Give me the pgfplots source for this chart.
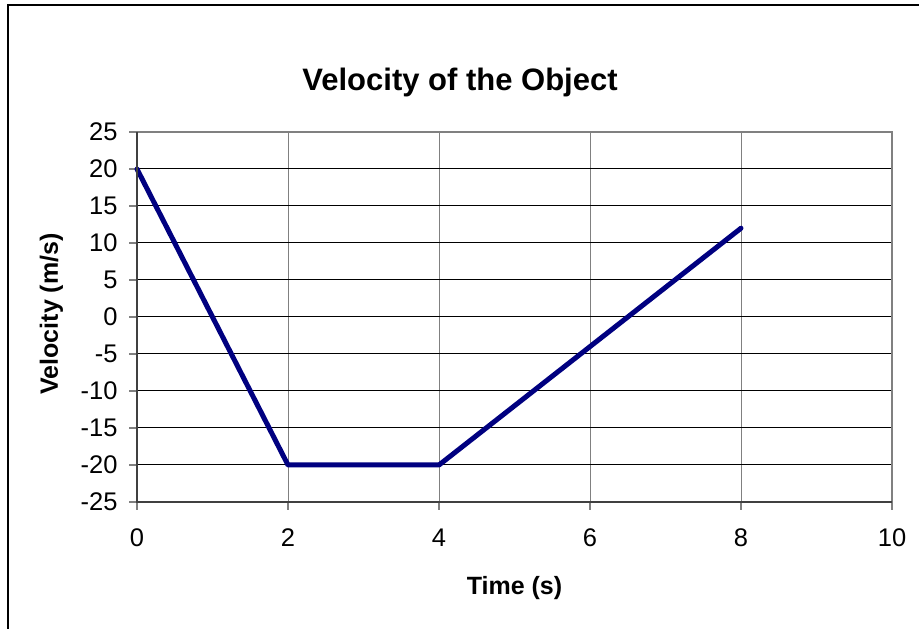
\documentclass[border=0pt]{standalone}
\usepackage{fontspec}
\setmainfont{Liberation Sans}
\usepackage{pgfplots}
\pgfplotsset{compat=1.18}
\definecolor{navyline}{RGB}{0,0,128}
\definecolor{gridgray}{RGB}{128,128,128}
\definecolor{axisgray}{RGB}{64,64,64}
\begin{document}
\begin{tikzpicture}[x=1pt,y=1pt]
\useasboundingbox (0,0) rectangle (919,629);
\draw[line width=2.2pt, black] (7.7,0) -- (7.7,624) -- (919,624);
\node[font=\fontsize{31}{36}\selectfont\bfseries, anchor=base] at (460,538) {Velocity of the Object};
\begin{axis}[
  at={(137pt,127pt)}, anchor=south west, scale only axis,
  width=755pt, height=370pt,
  xmin=0, xmax=10, ymin=-25, ymax=25,
  xtick={0,2,4,6,8,10},
  xticklabels={0,2,4,6,8,10},
  ytick={-25,-20,-15,-10,-5,0,5,10,15,20,25},
  yticklabels={-25,-20,-15,-10,-5,0,5,10,15,20,25},
  tick label style={font=\fontsize{25.5}{30}\selectfont},
  xticklabel style={yshift=-15pt},
  yticklabel style={xshift=-8pt},
  tick align=outside, major tick length=8pt,
  tick style={color=gridgray, line width=1.2pt},
  xtick pos=bottom, ytick pos=left,
  axis line style={draw=none},
  grid=major,
  x grid style={color=gridgray, line width=1pt},
  y grid style={color=black, line width=1pt},
  xlabel={Time (s)},
  ylabel={Velocity (m/s)},
  label style={font=\fontsize{25}{30}\selectfont\bfseries},
  xlabel style={at={(axis description cs:0.5,0)}, anchor=base, yshift=-93pt},
  ylabel style={at={(axis description cs:0,0.5)}, anchor=base, yshift=79pt, xshift=3pt},
  clip=false,
]
\addplot[color=navyline, line width=5pt, line join=round, line cap=round] coordinates {(0,20) (2,-20) (4,-20) (8,12)};
\draw[color=gridgray, line width=1.5pt] (rel axis cs:0,1) -- (rel axis cs:1,1) -- (rel axis cs:1,0);
\draw[color=axisgray, line width=2pt] (rel axis cs:0,1) -- (rel axis cs:0,0) -- (rel axis cs:1,0);
\end{axis}
\end{tikzpicture}
\end{document}
